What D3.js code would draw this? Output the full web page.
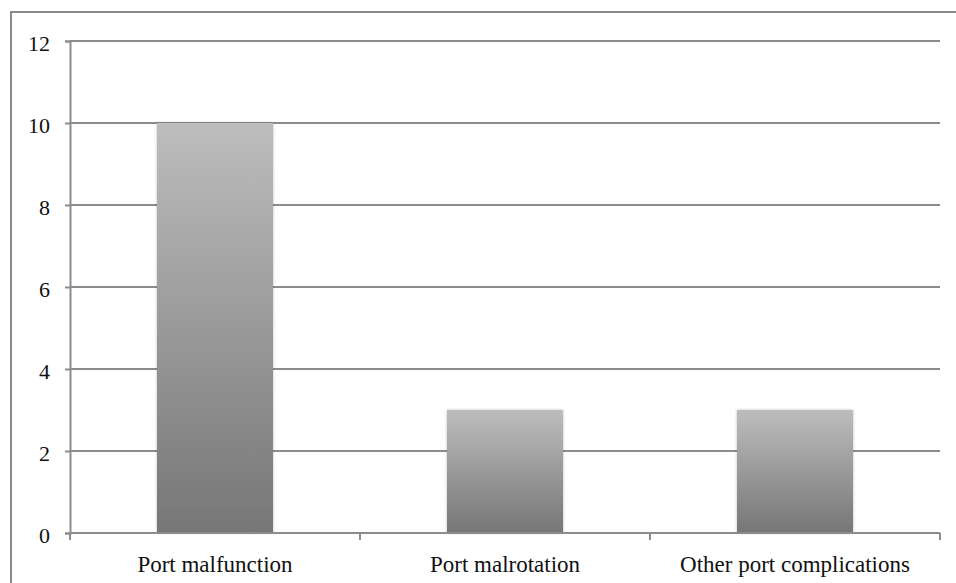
<!DOCTYPE html>
<html><head><meta charset="utf-8">
<script src="https://cdn.jsdelivr.net/npm/d3@7"></script>
<style>body{margin:0;background:#fff}svg{display:block}</style>
</head><body>
<svg id="c" width="956" height="583"></svg>
<script>
const categories = ["Port malfunction", "Port malrotation", "Other port complications"];
const values = [10, 3, 3];
const yTicks = [0, 2, 4, 6, 8, 10, 12];

const svg = d3.select("#c");
const W = 956, H = 583;
const m = {left: 70, right: 16, top: 41, bottom: 50};
const x = d3.scaleBand().domain(categories).range([m.left, W - m.right]).paddingInner(0.6).paddingOuter(0.3);
const y = d3.scaleLinear().domain([0, 12]).range([H - m.bottom, m.top]);

// outer frame
svg.append("rect").attr("x", 11).attr("y", 12).attr("width", W).attr("height", H)
  .attr("fill", "none").attr("stroke", "#8a8a8a").attr("stroke-width", 2);

const defs = svg.append("defs");
const g = defs.append("linearGradient").attr("id", "bg").attr("x1", 0).attr("x2", 0).attr("y1", 0).attr("y2", 1);
g.append("stop").attr("offset", "0%").attr("stop-color", "#bdbdbd");
g.append("stop").attr("offset", "100%").attr("stop-color", "#767676");
const f = defs.append("filter").attr("id", "sh").attr("x", "-10%").attr("y", "-5%").attr("width", "120%").attr("height", "110%");
f.append("feGaussianBlur").attr("in", "SourceAlpha").attr("stdDeviation", 1.5).attr("result", "b");
f.append("feFlood").attr("flood-color", "#000").attr("flood-opacity", 0.25);
f.append("feComposite").attr("in2", "b").attr("operator", "in").attr("result", "s");
const fm = f.append("feMerge");
fm.append("feMergeNode").attr("in", "s");
fm.append("feMergeNode").attr("in", "SourceGraphic");

// gridlines
svg.append("g").selectAll("line").data(yTicks.filter(d => d > 0)).join("line")
  .attr("x1", m.left).attr("x2", W - m.right)
  .attr("y1", d => y(d)).attr("y2", d => y(d))
  .attr("stroke", "#8c8c8c").attr("stroke-width", 2);

// bars
svg.append("g").selectAll("rect").data(categories).join("rect")
  .attr("x", d => x(d)).attr("width", x.bandwidth())
  .attr("y", (d, i) => y(values[i])).attr("height", (d, i) => y(0) - y(values[i]))
  .attr("fill", "url(#bg)").attr("filter", "url(#sh)");

// y axis
const ya = d3.axisLeft(y).tickValues(yTicks).tickSize(5).tickPadding(15).tickFormat(d3.format("d"));
const yg = svg.append("g").attr("transform", `translate(${m.left},0)`).call(ya);
yg.select(".domain").attr("stroke", "#8c8c8c").attr("stroke-width", 2);
yg.selectAll(".tick line").attr("stroke", "#8c8c8c").attr("stroke-width", 2);
yg.selectAll("text").attr("font-family", "Liberation Serif, serif").attr("font-size", 22).attr("fill", "#111").attr("dy", "0.45em");

// x axis
const xb = d3.scaleBand().domain(categories).range([m.left, W - m.right]);
const xg = svg.append("g").attr("transform", `translate(0,${y(0)})`);
xg.append("line").attr("x1", m.left).attr("x2", W - m.right).attr("stroke", "#8c8c8c").attr("stroke-width", 2);
const bounds = [m.left].concat(categories.map(c => xb(c) + xb.bandwidth()));
xg.selectAll("line.t").data(bounds).join("line").attr("class", "t")
  .attr("x1", d => d).attr("x2", d => d).attr("y1", 0).attr("y2", 7)
  .attr("stroke", "#8c8c8c").attr("stroke-width", 2);
xg.selectAll("text").data(categories).join("text")
  .attr("x", d => xb(d) + xb.bandwidth() / 2).attr("y", 39)
  .attr("text-anchor", "middle").attr("font-family", "Liberation Serif, serif").attr("font-size", 23).attr("fill", "#111")
  .text(d => d);
</script>
</body></html>
